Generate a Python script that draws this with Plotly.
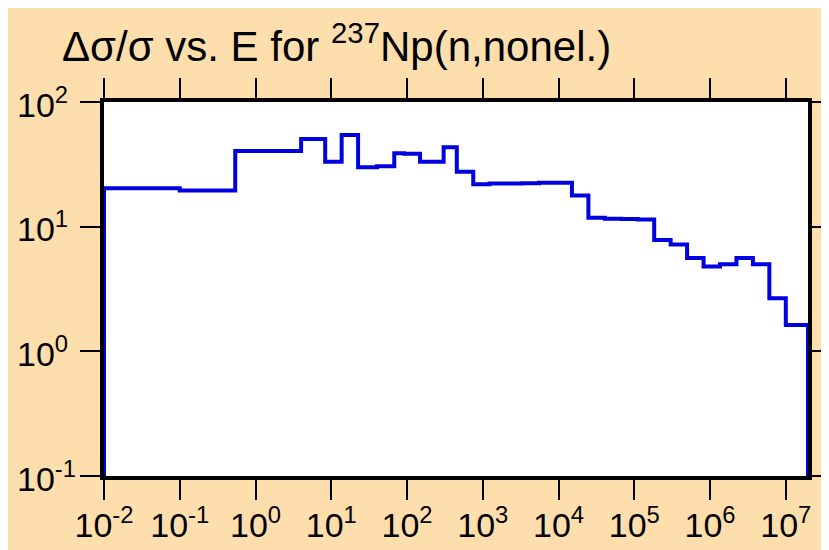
import math
import plotly.graph_objects as go

# ECCO-33 style group boundaries (eV), low -> high (lowest clipped at plot edge 1e-2)
energy_bounds = [1e-2, 0.1, 0.54, 4.0, 8.315, 13.71, 22.6, 40.17, 67.9, 91.66,
                 148.6, 304.3, 454.0, 748.5, 1234.0, 2035.0, 3355.0, 5531.0,
                 9119.0, 15030.0, 24790.0, 40870.0, 67380.0, 111100.0, 183200.0,
                 302000.0, 497900.0, 820900.0, 1353000.0, 2231000.0, 3679000.0,
                 6065000.0, 1.0e7, 1.964e7]
# relative uncertainty (%) per group
rel_unc = [20.3, 19.5, 40.5, 50.5, 33.2, 54.4, 29.9, 30.5, 38.8, 38.5,
           33.2, 43.4, 27.6, 21.9, 22.2, 22.2, 22.3, 22.5, 22.5, 17.8,
           11.8, 11.6, 11.5, 11.4, 7.8, 7.2, 5.6, 4.8, 5.0, 5.6,
           5.0, 2.67, 1.63]
floor_val = 0.1

x_tick_vals = [1e-2, 1e-1, 1e0, 1e1, 1e2, 1e3, 1e4, 1e5, 1e6, 1e7]
x_tick_text = ["10<sup>-2</sup>", "10<sup>-1</sup>", "10<sup>0</sup>", "10<sup>1</sup>",
               "10<sup>2</sup>", "10<sup>3</sup>", "10<sup>4</sup>", "10<sup>5</sup>",
               "10<sup>6</sup>", "10<sup>7</sup>"]
y_tick_vals = [1e-1, 1e0, 1e1, 1e2]
y_tick_text = ["10<sup>-1</sup>", "10<sup>0</sup>", "10<sup>1</sup>", "10<sup>2</sup>"]

title_text = "Δσ/σ vs. E for <sup>237</sup>Np(n,nonel.)"

xs = [energy_bounds[0]] + energy_bounds
ys = [floor_val] + rel_unc + [floor_val]

FONT = "Liberation Sans, Arial, Helvetica, sans-serif"
W, H = 821, 542  # page body has an 8px margin
ML, MR, MT, MB = 96, 21, 94, 74
PW = W - ML - MR

fig = go.Figure()
fig.add_trace(go.Scatter(x=xs, y=ys, mode="lines", line_shape="hv",
                         line=dict(color="#0000e0", width=4), showlegend=False,
                         hoverinfo="skip"))

# y tick labels, left-aligned like the reference
for v, t in zip(y_tick_vals, y_tick_text):
    fig.add_annotation(text=t, xref="paper", x=(7 - ML) / PW, xanchor="left",
                       yref="y", y=math.log10(v), yanchor="middle", yshift=0,
                       showarrow=False, font=dict(size=34, family=FONT, color="black"))

fig.update_layout(
    width=W, height=H,
    margin=dict(l=ML, r=MR, t=MT, b=MB),
    paper_bgcolor="#FFDEAD",
    plot_bgcolor="white",
    font=dict(family=FONT, color="black"),
    title=dict(text=title_text, font=dict(size=42, family=FONT, color="black"),
               xref="container", x=54 / W, xanchor="left",
               yref="container", y=1 - 38 / H, yanchor="middle", automargin=False),
)
fig.update_xaxes(type="log", range=[-2, 7.2931], tickvals=x_tick_vals, ticktext=x_tick_text,
                 ticks="outside", ticklen=20, tickwidth=2, tickcolor="black",
                 showline=True, linewidth=4, linecolor="black", mirror="ticks",
                 showgrid=False, zeroline=False, automargin=False,
                 tickfont=dict(size=34, family=FONT, color="black"), ticklabelstandoff=-4)
fig.update_yaxes(type="log", range=[-1, 2], tickvals=y_tick_vals, showticklabels=False,
                 ticks="outside", ticklen=20, tickwidth=2, tickcolor="black",
                 showline=True, linewidth=4, linecolor="black", mirror="ticks",
                 showgrid=False, zeroline=False, automargin=False)

fig.write_html("out.html")
